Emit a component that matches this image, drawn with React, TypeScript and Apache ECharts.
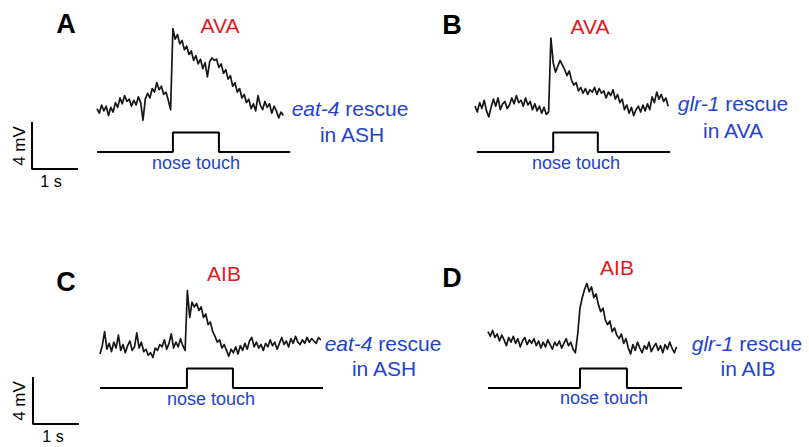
import React, { useEffect, useRef } from "react";
import * as echarts from "echarts";

// ---------- data (mV relative to stimulus baseline, sampled every DT s) ----------
const DT = 0.05;

const TRACE_A = [
  3.7, 3.3, 4.0, 3.5, 3.9, 3.1, 3.8, 3.4, 4.2, 3.8,
  4.6, 4.1, 4.8, 4.3, 4.5, 3.9, 4.4, 4.0, 4.7, 4.2,
  2.7, 4.5, 5.0, 4.6, 5.4, 5.1, 5.9, 5.3, 5.6, 4.9,
  5.1, 4.4, 3.6,
  10.5, 9.6, 10.0, 9.2, 9.5, 8.7, 9.0, 8.3, 8.6, 7.8,
  8.2, 7.5, 7.9, 7.1, 7.6, 6.4, 7.7, 8.0, 7.8, 7.9,
  7.2, 7.5, 6.7, 7.0, 6.2, 6.5, 5.6, 5.9, 5.1, 5.4,
  4.6, 4.9, 4.2, 4.5, 3.7, 4.1, 3.5, 4.8, 4.0, 3.6,
  4.3, 3.8, 4.1, 3.3, 3.9, 3.5, 2.9, 3.4, 3.1,
];

const TRACE_B = [
  3.9, 3.4, 4.2, 3.7, 4.4, 3.5, 3.0, 3.8, 4.5, 3.9,
  4.6, 3.6, 4.1, 4.3, 3.7, 4.0, 4.6, 4.1, 4.8, 4.2,
  4.4, 3.9, 4.6, 4.0, 4.3, 3.6, 4.1, 3.5, 3.9, 3.3,
  3.8, 3.2, 3.4,
  9.7, 7.6, 6.8, 7.3, 7.8, 7.4, 7.0, 6.5, 6.9, 6.1,
  5.7, 5.9, 5.2, 5.5, 5.0, 5.4, 4.9, 5.3, 5.1, 5.5,
  4.9, 5.4, 5.0, 5.2, 4.6, 5.1, 4.8, 5.3, 4.5, 4.9,
  4.2, 4.5, 3.6, 4.0, 3.3, 3.8, 3.1, 3.6, 3.9, 3.4,
  4.0, 3.5, 4.1, 3.6, 4.7, 4.2, 5.1, 4.5, 4.9, 4.3,
  4.6, 3.9,
];

const TRACE_C = [
  2.9, 3.6, 4.8, 3.3, 3.8, 3.1, 3.9, 3.4, 4.5, 3.2,
  3.7, 3.0, 3.6, 4.0, 3.2, 3.5, 4.7, 3.4, 3.9, 3.1,
  3.3, 2.8, 3.0, 2.6, 3.4, 3.2, 3.7, 3.5, 4.1, 3.3,
  3.8, 4.6, 3.4, 3.9, 3.5, 4.2, 3.6, 3.2,
  8.3, 6.0, 7.3, 6.9, 7.2, 6.6, 6.9, 6.0, 6.3, 5.4,
  5.6, 4.8, 4.4, 3.9, 4.1, 3.4, 3.7, 3.2, 2.7, 3.3,
  3.0, 3.5, 2.9, 3.6, 3.2, 3.8, 3.3, 4.0, 4.3, 3.5,
  3.9, 3.4, 3.7, 3.2, 3.8, 3.5, 4.1, 3.6, 3.9, 3.3,
  3.8, 4.3, 3.7, 4.0, 3.5, 4.2, 3.8, 4.4, 3.9, 3.7,
  4.1, 3.8, 4.3, 3.9, 4.2, 4.0, 3.8, 4.3, 4.1,
];

const TRACE_D = [
  4.8, 4.4, 4.9, 4.3, 4.6, 4.0, 4.5, 4.1, 3.6, 4.3,
  3.9, 4.4, 3.8, 4.2, 3.5, 4.0, 4.3, 3.7, 4.1, 3.8,
  4.2, 3.6, 4.0, 3.4, 3.9, 3.5, 4.1, 3.7, 3.3, 3.9,
  3.6, 4.0, 3.4, 3.8, 4.2, 3.6, 3.9, 3.3, 3.0,
  4.6, 6.8, 7.7, 8.4, 8.9, 8.2, 8.6, 7.7, 8.0, 7.1,
  6.5, 6.8, 5.8, 5.4, 5.7, 4.8, 5.1, 4.5, 4.2, 4.6,
  3.8, 4.2, 3.4, 2.9, 3.7, 3.2, 3.9, 3.4, 3.0, 3.6,
  3.3, 3.9, 3.1, 3.5, 3.8, 3.2, 3.6, 3.0, 3.7, 3.3,
  3.9, 3.4, 3.0, 3.5,
];

const TRACES = [TRACE_A, TRACE_B, TRACE_C, TRACE_D];

// nose-touch stimulus timing (s) per panel
const STIM_START = [0, 0.04, 0, 0];
const TOUCH_ON = [1.65, 1.7, 1.89, 2.0];
const TOUCH_OFF = [2.65, 2.67, 2.89, 3.02];
const STIM_END = [4.2, 4.24, 4.85, 4.22];
const STIM_AMP = 1.65;

// scale bar
const SCALE_S = 1;
const SCALE_MV = 4;

// labels
const PANEL_LETTERS = ["A", "B", "C", "D"];
const NEURONS = ["AVA", "AVA", "AIB", "AIB"];
const GENES = ["eat-4", "glr-1", "eat-4", "glr-1"];
const RESCUE_SITES = ["in ASH", "in AVA", "in ASH", "in AIB"];
const STIM_LABEL = "nose touch";

// ---------- layout ----------
const PX_S = 46;
const PX_MV = 11.75;
const X_MIN = -2, X_MAX = 5, Y_MIN = -4, Y_MAX = 12;
const ORIGIN_X = [97, 475, 100, 488];
const STIM_Y = [152, 152, 388, 388];
const SCALE_CORNER: ([number, number] | null)[] = [[-1.413, -1.447], null, [-1.457, -3.06], null];

const LETTER_POS = [[66, 24], [452, 25], [66, 282], [452, 278]];
const NEURON_POS = [[220, 25], [590, 26], [224, 273], [617, 267]];
const GENE_POS = [[350, 108], [733, 103], [383, 343], [747, 343]];
const SITE_POS = [[352, 134], [733, 130], [384, 368], [748, 368]];
const STIM_LABEL_POS = [[196, 163], [576, 163], [211, 399], [604, 398]];
const SCALE_MV_POS = [[19, 146], null, [19, 401], null];
const SCALE_S_POS = [[51, 181], null, [53, 436], null];

const FONT = "Liberation Sans, Arial, Helvetica, sans-serif";
const BLUE = "#2343cc";
const RED = "#e3191f";

function buildOption() {
  const grid: any[] = [];
  const xAxis: any[] = [];
  const yAxis: any[] = [];
  const series: any[] = [];
  const graphic: any[] = [];

  for (let p = 0; p < 4; p++) {
    grid.push({
      left: ORIGIN_X[p] + X_MIN * PX_S,
      top: STIM_Y[p] - Y_MAX * PX_MV,
      width: (X_MAX - X_MIN) * PX_S,
      height: (Y_MAX - Y_MIN) * PX_MV,
      containLabel: false,
    });
    xAxis.push({ type: "value", gridIndex: p, min: X_MIN, max: X_MAX, show: false });
    yAxis.push({ type: "value", gridIndex: p, min: Y_MIN, max: Y_MAX, show: false });

    series.push({
      type: "line",
      xAxisIndex: p,
      yAxisIndex: p,
      data: TRACES[p].map((v, i) => [+(i * DT).toFixed(3), v]),
      showSymbol: false,
      clip: false,
      lineStyle: { color: "#161616", width: 1.7, join: "round" },
    });

    series.push({
      type: "line",
      xAxisIndex: p,
      yAxisIndex: p,
      data: [
        [STIM_START[p], 0],
        [TOUCH_ON[p], 0],
        [TOUCH_ON[p], STIM_AMP],
        [TOUCH_OFF[p], STIM_AMP],
        [TOUCH_OFF[p], 0],
        [STIM_END[p], 0],
      ],
      showSymbol: false,
      clip: false,
      lineStyle: { color: "#000", width: 2 },
    });

    const c = SCALE_CORNER[p];
    if (c) {
      series.push({
        type: "line",
        xAxisIndex: p,
        yAxisIndex: p,
        data: [
          [c[0], c[1] + SCALE_MV],
          [c[0], c[1]],
          [c[0] + SCALE_S, c[1]],
        ],
        showSymbol: false,
        clip: false,
        lineStyle: { color: "#000", width: 2 },
      });
    }

    graphic.push({
      type: "text",
      x: LETTER_POS[p][0],
      y: LETTER_POS[p][1],
      style: {
        text: PANEL_LETTERS[p],
        fontFamily: FONT,
        fontSize: 27,
        fontWeight: "bold",
        fill: "#000",
        align: "center",
        verticalAlign: "middle",
      },
    });
    graphic.push({
      type: "text",
      x: NEURON_POS[p][0],
      y: NEURON_POS[p][1],
      style: {
        text: NEURONS[p],
        fontFamily: FONT,
        fontSize: 21,
        fill: RED,
        align: "center",
        verticalAlign: "middle",
      },
    });
    graphic.push({
      type: "text",
      x: GENE_POS[p][0],
      y: GENE_POS[p][1],
      style: {
        text: "{i|" + GENES[p] + "}{n| rescue}",
        rich: {
          i: { fontStyle: "italic", fontFamily: FONT, fontSize: 21, fill: BLUE },
          n: { fontFamily: FONT, fontSize: 21, fill: BLUE },
        },
        fontFamily: FONT,
        fontSize: 21,
        fill: BLUE,
        align: "center",
        verticalAlign: "middle",
      },
    });
    graphic.push({
      type: "text",
      x: SITE_POS[p][0],
      y: SITE_POS[p][1],
      style: {
        text: RESCUE_SITES[p],
        fontFamily: FONT,
        fontSize: 21,
        fill: BLUE,
        align: "center",
        verticalAlign: "middle",
      },
    });
    graphic.push({
      type: "text",
      x: STIM_LABEL_POS[p][0],
      y: STIM_LABEL_POS[p][1],
      style: {
        text: STIM_LABEL,
        fontFamily: FONT,
        fontSize: 18,
        fill: BLUE,
        align: "center",
        verticalAlign: "middle",
      },
    });
    const mp = SCALE_MV_POS[p];
    if (mp) {
      graphic.push({
        type: "text",
        x: mp[0],
        y: mp[1],
        rotation: Math.PI / 2,
        style: {
          text: SCALE_MV + " mV",
          fontFamily: FONT,
          fontSize: 17,
          fill: "#000",
          align: "center",
          verticalAlign: "middle",
        },
      });
    }
    const sp = SCALE_S_POS[p];
    if (sp) {
      graphic.push({
        type: "text",
        x: sp[0],
        y: sp[1],
        style: {
          text: SCALE_S + " s",
          fontFamily: FONT,
          fontSize: 16,
          fill: "#000",
          align: "center",
          verticalAlign: "middle",
        },
      });
    }
  }

  return {
    animation: false,
    backgroundColor: "#fff",
    grid,
    xAxis,
    yAxis,
    series,
    graphic,
  };
}

export default function App() {
  const ref = useRef<HTMLDivElement>(null);
  useEffect(() => {
    if (!ref.current) return;
    const chart = echarts.init(ref.current, null, { renderer: "svg" });
    chart.setOption(buildOption() as any);
    return () => chart.dispose();
  }, []);
  return (
    <div
      ref={ref}
      style={{ position: "fixed", left: 0, top: 0, width: 809, height: 447, background: "#fff" }}
    />
  );
}
